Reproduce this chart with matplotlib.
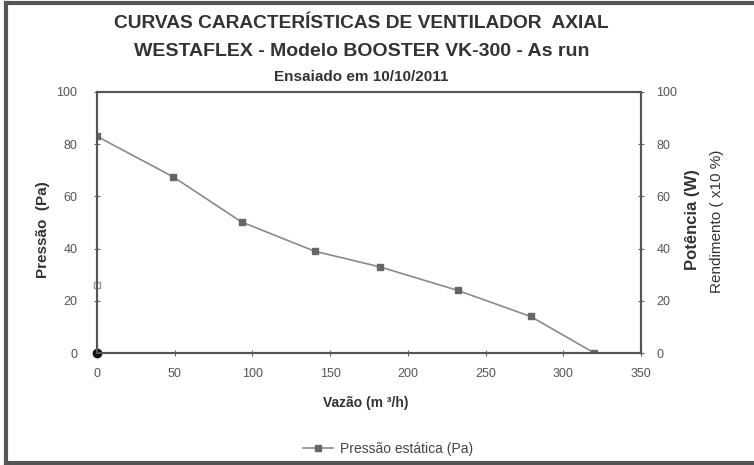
import matplotlib
matplotlib.use("Agg")
import matplotlib.pyplot as plt
from matplotlib.lines import Line2D

vazao = [0, 49, 93, 140, 182, 232, 279, 320]
pressao = [83, 67.5, 50.2, 39, 33, 24, 14, 0]
potencia_x = [0]
potencia_y = [26]
rend_x = [0]
rend_y = [0]
xticks = [0, 50, 100, 150, 200, 250, 300, 350]
yticks = [0, 20, 40, 60, 80, 100]

plt.rcParams['font.family'] = ['Liberation Sans', 'DejaVu Sans']

W, H = 754, 465
fig = plt.figure(figsize=(7.54, 4.65), dpi=100)
ax = fig.add_axes([97/W, 1-353/H, (641-97)/W, (353-92)/H])

ax.plot(vazao, pressao, color='#8a8a8a', lw=1.2, marker='s', ms=4.5,
        mfc='#666666', mec='#666666', label='Pressão estática (Pa)', zorder=3)
ax.plot(potencia_x, potencia_y, ls='none', marker='s', ms=4, mfc='white',
        mec='#999999', zorder=4, clip_on=False)
ax.plot(rend_x, rend_y, ls='none', marker='o', ms=6, mfc='#111111',
        mec='#111111', zorder=4, clip_on=False)

ax.set_xlim(0, 350)
ax.set_ylim(0, 100)
ax.set_xticks(xticks)
ax.set_yticks(yticks)
for s in ax.spines.values():
    s.set_color('#555555')
    s.set_linewidth(1.5)
ax.tick_params(colors='#666666', labelcolor='#555555', labelsize=9,
               direction='inout', length=4)
ax.tick_params(axis='y', pad=12)
ax.tick_params(axis='x', pad=9)

ax2 = ax.twinx()
ax2.set_ylim(0, 100)
ax2.set_yticks(yticks)
ax2.tick_params(colors='#666666', labelcolor='#555555', labelsize=9,
                direction='inout', length=4, pad=9)
for s in ax2.spines.values():
    s.set_color('#555555')
    s.set_linewidth(1.5)

fig.text(366/W, 1-403/H, 'Vazão (m ³/h)', ha='center', va='center',
         fontsize=10, fontweight='bold', color='#333333')
fig.text(43/W, 1-230/H, 'Pressão  (Pa)', rotation=90, ha='center', va='center',
         fontsize=11, fontweight='bold', color='#333333')

fig.text(693/W, 1-220/H, 'Potência (W)', rotation=90, ha='center', va='center',
         fontsize=12, fontweight='bold', color='#333333')
fig.text(717/W, 1-221/H, 'Rendimento ( x10 %)', rotation=90, ha='center', va='center',
         fontsize=11, color='#333333')

fig.text(361/W, 1-24/H, 'CURVAS CARACTERÍSTICAS DE VENTILADOR  AXIAL',
         ha='center', va='center', fontsize=13.8, fontweight='bold', color='#333333')
fig.text(362/W, 1-51/H, 'WESTAFLEX - Modelo BOOSTER VK-300 - As run',
         ha='center', va='center', fontsize=14, fontweight='bold', color='#333333')
fig.text(361/W, 1-77/H, 'Ensaiado em 10/10/2011',
         ha='center', va='center', fontsize=11, fontweight='bold', color='#333333')

leg = fig.legend(loc='center', bbox_to_anchor=(388/W, 1-449/H), frameon=False,
                 fontsize=10, handlelength=2.2, handletextpad=0.5)
for t in leg.get_texts():
    t.set_color('#444444')

# outer frame
for xs, ys in [([6/W, 6/W], [0, 1-3/H]), ([6/W, 1], [1-3/H, 1-3/H]),
               ([6/W, 1], [1-463/H, 1-463/H])]:
    fig.add_artist(Line2D(xs, ys, color='#555555', lw=3, transform=fig.transFigure))

fig.savefig('out.png', dpi=100)
